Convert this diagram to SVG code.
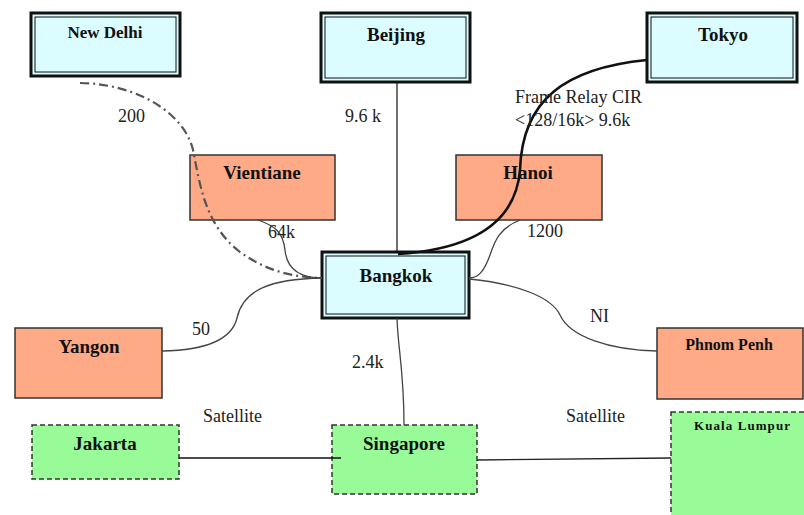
<svg xmlns="http://www.w3.org/2000/svg" width="804" height="515" viewBox="0 0 804 515">
<style>
.hub{fill:#dbfdff;stroke:#111;stroke-width:3}
.hubin{fill:none;stroke:#111;stroke-width:1}
.site{fill:#ffaa86;stroke:#333;stroke-width:1.5}
.sat{fill:#98fb98;stroke:#333;stroke-width:1.5;stroke-dasharray:5,3}
.nl{font-family:"Liberation Serif",serif;font-weight:bold;font-size:19px;fill:#111;text-anchor:middle}
.lb{font-family:"Liberation Serif",serif;font-size:18px;fill:#222}
.c{fill:none;stroke:#444;stroke-width:1.3}
</style>
<rect width="804" height="515" fill="#fff"/>
<g id="new-delhi">
<rect class="hub" x="31" y="13" width="149" height="63"/>
<rect class="hubin" x="35" y="17" width="141" height="55"/>
<text class="nl" x="105" y="38" style="font-size:17px">New Delhi</text>
</g>
<g id="beijing">
<rect class="hub" x="321" y="13" width="149" height="69"/>
<rect class="hubin" x="325" y="17" width="141" height="61"/>
<text class="nl" x="396" y="41">Beijing</text>
</g>
<g id="tokyo">
<rect class="hub" x="647" y="13" width="150" height="69"/>
<rect class="hubin" x="651" y="17" width="142" height="61"/>
<text class="nl" x="723" y="41">Tokyo</text>
</g>
<g id="vientiane">
<rect class="site" x="190" y="155" width="145" height="65"/>
<text class="nl" x="262" y="179">Vientiane</text>
</g>
<g id="hanoi">
<rect class="site" x="456" y="155" width="146" height="65"/>
<text class="nl" x="528" y="179">Hanoi</text>
</g>
<g id="bangkok">
<rect class="hub" x="322" y="252" width="147" height="66"/>
<rect class="hubin" x="326" y="256" width="139" height="58"/>
<text class="nl" x="396" y="282">Bangkok</text>
</g>
<g id="yangon">
<rect class="site" x="15" y="328" width="147" height="70"/>
<text class="nl" x="89" y="353">Yangon</text>
</g>
<g id="phnom-penh">
<rect class="site" x="657" y="328" width="146" height="71"/>
<text class="nl" x="729" y="350" style="font-size:16px">Phnom Penh</text>
</g>
<g id="jakarta">
<rect class="sat" x="32" y="425" width="147" height="54"/>
<text class="nl" x="105" y="450">Jakarta</text>
</g>
<g id="singapore">
<rect class="sat" x="332" y="425" width="145" height="69"/>
<text class="nl" x="404" y="450">Singapore</text>
</g>
<g id="kuala-lumpur">
<rect class="sat" x="671" y="412" width="140" height="110"/>
<text class="nl" x="742" y="430" style="font-size:13px" textLength="96" lengthAdjust="spacing">Kuala  Lumpur</text>
</g>
<g id="connectors">
<path class="c" d="M80,83 C140,84 185,115 193,150 C200,185 205,225 240,252 C265,270 290,277 322,278" style="stroke:#555;stroke-width:2.2;stroke-dasharray:9,4,2,4"/>
<path class="c" d="M258,220 C275,226 283,232 285,250 C287,270 300,278 322,278"/>
<path class="c" d="M162,351 C215,350 233,335 237,318 C243,290 270,279 322,278"/>
<path class="c" d="M520,220 C500,228 495,240 490,255 C484,272 478,278 469,278"/>
<path class="c" d="M469,279 C520,284 552,298 560,315 C570,337 610,350 657,351"/>
<path class="c" d="M397,82 L397,252" style="stroke:#111;stroke-width:1.2"/>
<path class="c" d="M647,60 C565,68 522,100 520,170 C515,230 460,250 398,254" style="stroke:#111;stroke-width:2.6"/>
<path class="c" d="M397,318 C398,350 404,370 404,425"/>
<path class="c" d="M179,458 L341,458" style="stroke:#111"/>
<path class="c" d="M477,460 L671,458" style="stroke:#222"/>
</g>
<g id="labels">
<text class="lb" x="118" y="122">200</text>
<text class="lb" x="345" y="122">9.6 k</text>
<text class="lb" x="515" y="103">Frame Relay CIR</text>
<text class="lb" x="515" y="126">&lt;128/16k&gt; 9.6k</text>
<text class="lb" x="268" y="238">64k</text>
<text class="lb" x="527" y="237">1200</text>
<text class="lb" x="192" y="335">50</text>
<text class="lb" x="590" y="322">NI</text>
<text class="lb" x="352" y="368">2.4k</text>
<text class="lb" x="203" y="422">Satellite</text>
<text class="lb" x="566" y="422">Satellite</text>
</g>
</svg>
